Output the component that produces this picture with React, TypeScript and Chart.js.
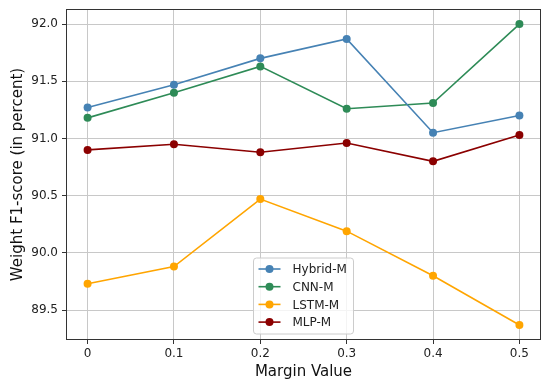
import React, { useEffect, useRef } from "react";
import { Chart, registerables } from "chart.js";

Chart.register(...registerables);

const marginValues = [0, 0.1, 0.2, 0.3, 0.4, 0.5];
const xTickLabels = ["0", "0.1", "0.2", "0.3", "0.4", "0.5"];
const yTickValues = [89.5, 90.0, 90.5, 91.0, 91.5, 92.0];

const hybridM = [91.27, 91.47, 91.7, 91.87, 91.05, 91.2];
const cnnM = [91.18, 91.4, 91.63, 91.26, 91.31, 92.0];
const lstmM = [89.73, 89.88, 90.47, 90.19, 89.8, 89.37];
const mlpM = [90.9, 90.95, 90.88, 90.96, 90.8, 91.03];

const seriesNames = ["Hybrid-M", "CNN-M", "LSTM-M", "MLP-M"];
const seriesColors = ["#4682B4", "#2E8B57", "#FFA500", "#8B0000"];

const FONT = "'DejaVu Sans', sans-serif";

const framePlugin = {
  id: "frame",
  afterDatasetsDraw(chart: any) {
    const { ctx, chartArea } = chart;
    ctx.save();
    ctx.strokeStyle = "#333333";
    ctx.lineWidth = 1;
    ctx.strokeRect(
      Math.round(chartArea.left) + 0.5,
      Math.round(chartArea.top) + 0.5,
      Math.round(chartArea.right - chartArea.left) - 1,
      Math.round(chartArea.bottom - chartArea.top) - 1
    );
    ctx.restore();
  },
};

const legendPlugin = {
  id: "innerLegend",
  afterDraw(chart: any) {
    const { ctx, chartArea } = chart;
    const boxW = 100;
    const boxH = 76;
    const cx = (chartArea.left + chartArea.right) / 2;
    const x = cx - boxW / 2;
    const y = chartArea.bottom - 6 - boxH;
    ctx.save();
    ctx.fillStyle = "rgba(255,255,255,0.8)";
    ctx.strokeStyle = "#cccccc";
    ctx.lineWidth = 1;
    const r = 3;
    ctx.beginPath();
    ctx.moveTo(x + r, y);
    ctx.lineTo(x + boxW - r, y);
    ctx.quadraticCurveTo(x + boxW, y, x + boxW, y + r);
    ctx.lineTo(x + boxW, y + boxH - r);
    ctx.quadraticCurveTo(x + boxW, y + boxH, x + boxW - r, y + boxH);
    ctx.lineTo(x + r, y + boxH);
    ctx.quadraticCurveTo(x, y + boxH, x, y + boxH - r);
    ctx.lineTo(x, y + r);
    ctx.quadraticCurveTo(x, y, x + r, y);
    ctx.closePath();
    ctx.fill();
    ctx.stroke();
    ctx.font = `12px ${FONT}`;
    ctx.textBaseline = "middle";
    ctx.textAlign = "left";
    chart.data.datasets.forEach((ds: any, i: number) => {
      const ly = y + 11 + i * 17.7;
      ctx.strokeStyle = ds.borderColor;
      ctx.lineWidth = 1.6;
      ctx.beginPath();
      ctx.moveTo(x + 5, ly);
      ctx.lineTo(x + 27, ly);
      ctx.stroke();
      ctx.fillStyle = ds.backgroundColor;
      ctx.beginPath();
      ctx.arc(x + 16, ly, 4, 0, Math.PI * 2);
      ctx.fill();
      ctx.fillStyle = "#222222";
      ctx.fillText(ds.label, x + 39, ly + 1);
    });
    ctx.restore();
  },
};

export default function App() {
  const canvasRef = useRef<HTMLCanvasElement | null>(null);

  useEffect(() => {
    document.body.style.margin = "0";
    const seriesData = [hybridM, cnnM, lstmM, mlpM];
    const chart = new Chart(canvasRef.current as HTMLCanvasElement, {
      type: "line",
      data: {
        datasets: seriesData.map((vals, i) => ({
          label: seriesNames[i],
          data: vals.map((v, j) => ({ x: marginValues[j], y: v })),
          borderColor: seriesColors[i],
          backgroundColor: seriesColors[i],
          pointBackgroundColor: seriesColors[i],
          pointBorderColor: seriesColors[i],
          pointRadius: 4,
          pointBorderWidth: 0,
          borderWidth: 1.6,
          tension: 0,
        })),
      },
      options: {
        responsive: false,
        animation: false,
        layout: { padding: { left: 0, right: 9, top: 9, bottom: 0 } },
        plugins: {
          legend: { display: false },
          tooltip: { enabled: false },
        },
        scales: {
          x: {
            type: "linear",
            min: -0.025,
            max: 0.525,
            afterBuildTicks: (scale: any) => {
              scale.ticks = marginValues.map((v) => ({ value: v }));
            },
            afterFit: (scale: any) => {
              scale.height = 44;
              scale.paddingLeft = 0;
              scale.paddingRight = 0;
            },
            ticks: {
              color: "#222222",
              font: { family: FONT, size: 12 },
              padding: 3,
              maxRotation: 0,
              callback: (_v: any, idx: number) => xTickLabels[idx],
            },
            grid: {
              color: "#c8c8c8",
              lineWidth: 1,
              tickLength: 4,
              drawTicks: true,
              tickColor: "#333333",
            },
            border: { display: false },
            title: {
              display: true,
              text: "Margin Value",
              color: "#111111",
              font: { family: FONT, size: 15 },
              padding: { top: 3, bottom: 3 },
            },
          },
          y: {
            type: "linear",
            min: 89.2385,
            max: 92.1315,
            afterBuildTicks: (scale: any) => {
              scale.ticks = yTickValues.map((v) => ({ value: v }));
            },
            afterFit: (scale: any) => {
              scale.width = 66;
              scale.paddingTop = 0;
              scale.paddingBottom = 0;
            },
            ticks: {
              color: "#222222",
              font: { family: FONT, size: 12 },
              padding: 4,
              callback: (v: any) => Number(v).toFixed(1),
            },
            grid: {
              color: "#c8c8c8",
              lineWidth: 1,
              tickLength: 4,
              drawTicks: true,
              tickColor: "#333333",
            },
            border: { display: false },
            title: {
              display: true,
              text: "Weight F1-score (in percent)",
              color: "#111111",
              font: { family: FONT, size: 15 },
              padding: { top: 9, bottom: 9 },
            },
          },
        },
      },
      plugins: [framePlugin, legendPlugin],
    } as any);
    return () => chart.destroy();
  }, []);

  return (
    <div style={{ width: 550, height: 384 }}>
      <canvas ref={canvasRef} width={550} height={384} />
    </div>
  );
}
